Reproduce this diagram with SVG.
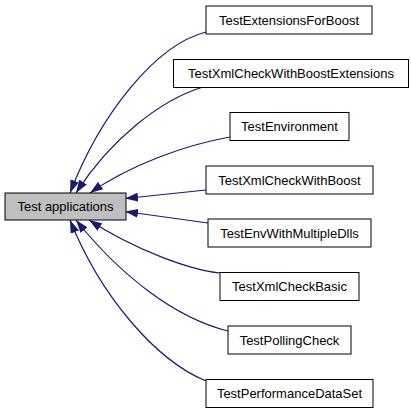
<svg xmlns="http://www.w3.org/2000/svg" width="411" height="413" viewBox="0 0 411 413">
<style>
.n rect{fill:#ffffff;stroke:#000000;stroke-width:1}
.n.main rect{fill:#bfbfbf}
.n text{font-family:"Liberation Sans",Arial,sans-serif;font-size:13px;fill:#000000;text-anchor:middle}
.e path{fill:none;stroke:#191970;stroke-width:1.2;marker-end:url(#ah)}
</style>
<defs>
<marker id="ah" viewBox="0 0 13 9" refX="13" refY="4.5" markerUnits="userSpaceOnUse" markerWidth="13" markerHeight="9" orient="auto">
<path d="M0,0 L13,4.5 L0,9 z" fill="#191970" stroke="none"/>
</marker>
</defs>
<rect width="411" height="413" fill="#ffffff"/>
<g id="edges" class="e">
<path d="M206,32 C155,45 100,115 70,193"/>
<path d="M203,87 C160,100 110,140 76,193"/>
<path d="M230,137 C185,145 130,165 90,193"/>
<path d="M206,190 L125,198.5"/>
<path d="M208,223 L125,211.5"/>
<path d="M220,273 C190,270 135,250 89,220"/>
<path d="M228,331 C175,318 120,275 76,220"/>
<path d="M206,381 C155,360 100,295 70,220"/>
</g>
<g id="node-main" class="n main"><rect x="5" y="193" width="121" height="27"/><text x="65.5" y="211">Test applications</text></g>
<g id="node-1" class="n"><rect x="206" y="6" width="166" height="28"/><text x="289" y="24.5">TestExtensionsForBoost</text></g>
<g id="node-2" class="n"><rect x="173.5" y="59.5" width="235" height="28"/><text x="291" y="78">TestXmlCheckWithBoostExtensions</text></g>
<g id="node-3" class="n"><rect x="230" y="112.5" width="119" height="28"/><text x="289.5" y="131">TestEnvironment</text></g>
<g id="node-4" class="n"><rect x="206" y="166" width="167" height="28"/><text x="289.5" y="184.5">TestXmlCheckWithBoost</text></g>
<g id="node-5" class="n"><rect x="208" y="219" width="163" height="28"/><text x="289.5" y="237.5">TestEnvWithMultipleDlls</text></g>
<g id="node-6" class="n"><rect x="220" y="272.5" width="139" height="28"/><text x="289.5" y="291">TestXmlCheckBasic</text></g>
<g id="node-7" class="n"><rect x="228" y="326" width="123" height="28"/><text x="289.5" y="344.5">TestPollingCheck</text></g>
<g id="node-8" class="n"><rect x="206" y="379.5" width="167" height="28"/><text x="289.5" y="398">TestPerformanceDataSet</text></g>
</svg>
